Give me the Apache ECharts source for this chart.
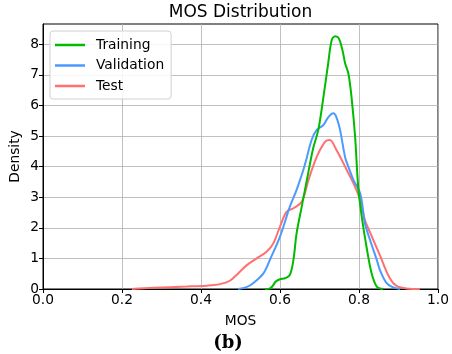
<!DOCTYPE html>
<html><head><meta charset="utf-8">
<script src="https://cdn.jsdelivr.net/npm/echarts@6/dist/echarts.min.js"></script>
<style>html,body{margin:0;padding:0;background:#fff}#c{width:452px;height:354px}</style>
</head><body><div id="c"></div>
<script>
const seriesNames = ['Training', 'Validation', 'Test'];
const trainX = [0.562,0.575,0.59,0.6,0.613,0.625,0.634,0.642,0.655,0.668,0.684,0.697,0.71,0.722,0.731,0.74,0.749,0.758,0.765,0.773,0.781,0.79,0.798,0.807,0.819,0.832,0.845,0.861];
const trainY = [0,0.02,0.25,0.32,0.35,0.46,0.95,1.82,2.69,3.56,4.6,5.2,6.28,7.37,8.14,8.26,8.19,7.81,7.37,7.05,6.28,5.0,3.34,2.36,1.38,0.51,0.08,0];
const valX = [0.494,0.515,0.532,0.558,0.575,0.6,0.625,0.642,0.659,0.668,0.68,0.693,0.71,0.722,0.735,0.743,0.752,0.765,0.773,0.786,0.803,0.815,0.828,0.845,0.853,0.87,0.885,0.904];
const valY = [0,0.06,0.19,0.51,0.97,1.71,2.69,3.24,3.89,4.3,4.87,5.2,5.36,5.61,5.74,5.61,5.2,4.3,4.0,3.56,3.13,2.15,1.6,0.95,0.62,0.19,0.06,0];
const testX = [0.225,0.28,0.364,0.414,0.448,0.473,0.494,0.516,0.541,0.566,0.583,0.6,0.617,0.634,0.655,0.672,0.693,0.714,0.726,0.743,0.769,0.786,0.803,0.815,0.828,0.853,0.878,0.895,0.92,0.954];
const testY = [0,0.04,0.08,0.11,0.16,0.27,0.51,0.78,1.0,1.22,1.49,2.04,2.53,2.64,2.85,3.56,4.32,4.81,4.87,4.54,3.89,3.45,2.91,2.25,1.85,1.1,0.35,0.1,0.02,0];
const xTicks = [0, 0.2, 0.4, 0.6, 0.8, 1.0];
const yTicks = [0, 1, 2, 3, 4, 5, 6, 7, 8];
const colors = ['#00bb00', '#4c9aff', '#ff7070'];

const zip = (xs, ys) => xs.map((x, i) => [x, ys[i]]);
const allData = [zip(trainX, trainY), zip(valX, valY), zip(testX, testY)];
const F = 'DejaVu Sans';
const chart = echarts.init(document.getElementById('c'), null, {renderer: 'canvas'});
chart.setOption({
  animation: false,
  backgroundColor: '#fff',
  grid: {left: 43, right: 14, top: 24, bottom: 65, show: true, borderColor: '#000', borderWidth: 1,
    containLabel: false, outerBoundsMode: 'none'},
  legend: {
    data: seriesNames, orient: 'vertical', left: 50, top: 31,
    icon: 'rect', itemWidth: 30, itemHeight: 2.5, itemGap: 6.5,
    backgroundColor: 'rgba(255,255,255,0.85)', borderColor: '#d0d0d0', borderWidth: 1, borderRadius: 3,
    padding: [7, 7, 6, 5],
    textStyle: {fontFamily: F, fontSize: 13.8, color: '#000', padding: [0, 0, 0, 6]}
  },
  xAxis: {
    type: 'value', min: 0, max: 1, interval: 0.2,
    name: 'MOS', nameLocation: 'middle', nameGap: 25,
    nameTextStyle: {fontFamily: F, fontSize: 13.8, color: '#000'},
    axisLine: {lineStyle: {color: '#000', width: 1}},
    axisTick: {show: true, inside: false, length: 4, lineStyle: {color: '#000'}},
    axisLabel: {fontFamily: F, fontSize: 13.8, color: '#000', margin: 4,
      customValues: xTicks, formatter: v => v.toFixed(1)},
    splitLine: {show: true, lineStyle: {color: '#b0b0b0', width: 0.8}}
  },
  yAxis: {
    type: 'value', min: 0, max: 8.66, interval: 1,
    name: 'Density', nameLocation: 'middle', nameGap: 21, nameRotate: 90, nameMoveOverlap: false,
    nameTextStyle: {fontFamily: F, fontSize: 13.8, color: '#000'},
    axisLine: {show: true, lineStyle: {color: '#000', width: 1}},
    axisTick: {show: true, length: 4, lineStyle: {color: '#000'}, customValues: yTicks},
    axisLabel: {fontFamily: F, fontSize: 13.8, color: '#000', margin: 4,
      customValues: yTicks, formatter: v => String(v)},
    splitLine: {show: true, lineStyle: {color: '#b0b0b0', width: 0.8}}
  },
  series: seriesNames.map((n, i) => ({
    name: n, type: 'line', data: allData[i], smooth: 0.35, symbol: 'none',
    lineStyle: {color: colors[i], width: 2}, itemStyle: {color: colors[i]}, z: 3 - i
  })),
  graphic: [
    {type: 'text', x: 240.5, y: 13,
      style: {text: 'MOS Distribution', fontFamily: F, fontSize: 17, fill: '#000', align: 'center', verticalAlign: 'middle'}},
    {type: 'text', x: 228, y: 343,
      style: {text: '(b)', fontFamily: 'DejaVu Serif', fontWeight: 'bold', fontSize: 18, fill: '#000', align: 'center', verticalAlign: 'middle'}}
  ]
});
</script></body></html>
